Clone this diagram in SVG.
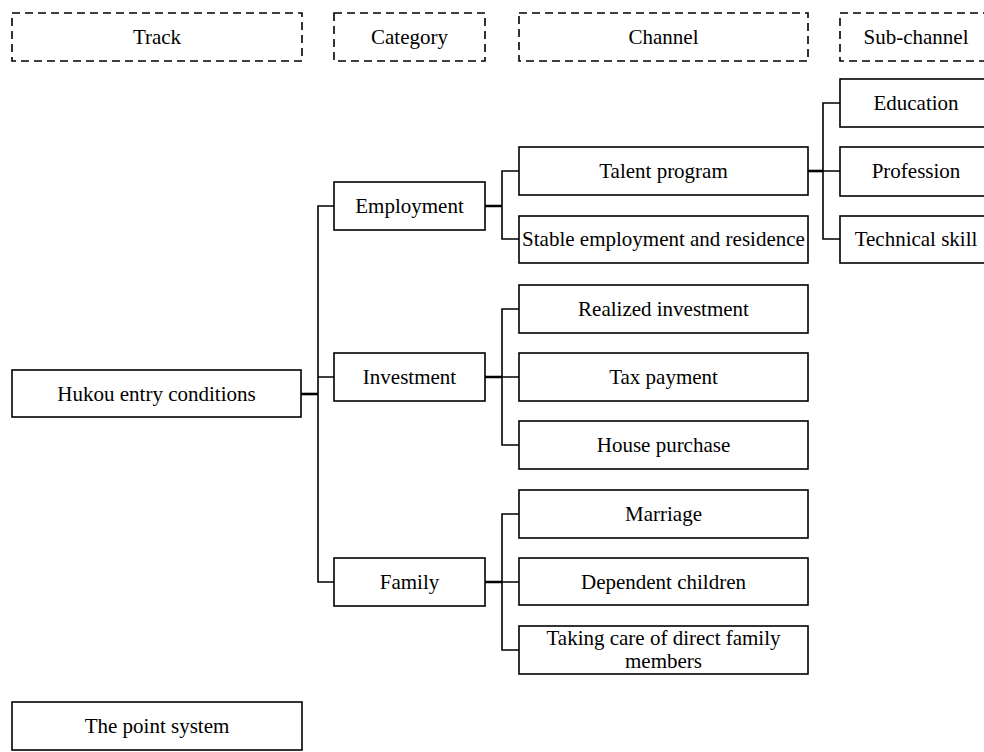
<svg xmlns="http://www.w3.org/2000/svg" width="984" height="752" viewBox="0 0 984 752">
<style>
.box{fill:#fff;stroke:#000;stroke-width:1.6}
.hdr{fill:#fff;stroke:#000;stroke-width:1.6;stroke-dasharray:8 5}
.t{font-family:"Liberation Serif","Times New Roman",serif;font-size:21px;fill:#000;text-anchor:middle}
.c{fill:none;stroke:#000;stroke-width:1.6}
.j{fill:none;stroke:#000;stroke-width:2.6}
</style>
<rect width="984" height="752" fill="#fff"/>
<g id="connectors">
<path class="j" d="M301,394H318"/>
<path class="c" d="M334,206H318V582H334M318,377H334"/>
<path class="j" d="M485,206H502M485,377H502M485,582H502"/>
<path class="c" d="M519,171H502V239H519"/>
<path class="c" d="M519,309H502V445H519M502,377H519"/>
<path class="c" d="M519,514H502V650H519M502,582H519"/>
<path class="j" d="M808,171H823"/>
<path class="c" d="M840,103H823V239H840M823,171H840"/>
</g>
<g id="hdr-track"><rect class="hdr" x="12" y="13" width="290" height="48"/><text class="t" x="157" y="44">Track</text></g>
<g id="hdr-category"><rect class="hdr" x="334" y="13" width="151" height="48"/><text class="t" x="409.5" y="44">Category</text></g>
<g id="hdr-channel"><rect class="hdr" x="519" y="13" width="289" height="48"/><text class="t" x="663.5" y="44">Channel</text></g>
<g id="hdr-subchannel"><rect class="hdr" x="840" y="13" width="160" height="48"/><text class="t" x="916" y="44">Sub-channel</text></g>
<g id="hukou"><rect class="box" x="12" y="370" width="289" height="47"/><text class="t" x="156.5" y="401">Hukou entry conditions</text></g>
<g id="employment"><rect class="box" x="334" y="182" width="151" height="48"/><text class="t" x="409.5" y="213">Employment</text></g>
<g id="investment"><rect class="box" x="334" y="353" width="151" height="48"/><text class="t" x="409.5" y="384">Investment</text></g>
<g id="family"><rect class="box" x="334" y="558" width="151" height="48"/><text class="t" x="409.5" y="589">Family</text></g>
<g id="talent"><rect class="box" x="519" y="147" width="289" height="48"/><text class="t" x="663.5" y="178">Talent program</text></g>
<g id="stable"><rect class="box" x="519" y="216" width="289" height="47"/><text class="t" x="663.5" y="246">Stable employment and residence</text></g>
<g id="realized"><rect class="box" x="519" y="285" width="289" height="48"/><text class="t" x="663.5" y="316">Realized investment</text></g>
<g id="tax"><rect class="box" x="519" y="353" width="289" height="48"/><text class="t" x="663.5" y="384">Tax payment</text></g>
<g id="house"><rect class="box" x="519" y="421" width="289" height="48"/><text class="t" x="663.5" y="452">House purchase</text></g>
<g id="marriage"><rect class="box" x="519" y="490" width="289" height="48"/><text class="t" x="663.5" y="521">Marriage</text></g>
<g id="dependent"><rect class="box" x="519" y="558" width="289" height="47"/><text class="t" x="663.5" y="589">Dependent children</text></g>
<g id="caring"><rect class="box" x="519" y="626" width="289" height="48"/><text class="t" x="663.5" y="645" font-size="20.5">Taking care of direct family</text><text class="t" x="663.5" y="668" font-size="20.5">members</text></g>
<g id="education"><rect class="box" x="840" y="79" width="160" height="48"/><text class="t" x="916" y="110">Education</text></g>
<g id="profession"><rect class="box" x="840" y="147" width="160" height="49"/><text class="t" x="916" y="178">Profession</text></g>
<g id="technical"><rect class="box" x="840" y="216" width="160" height="47"/><text class="t" x="916" y="246">Technical skill</text></g>
<g id="points"><rect class="box" x="12" y="702" width="290" height="48"/><text class="t" x="157" y="733">The point system</text></g>
</svg>
